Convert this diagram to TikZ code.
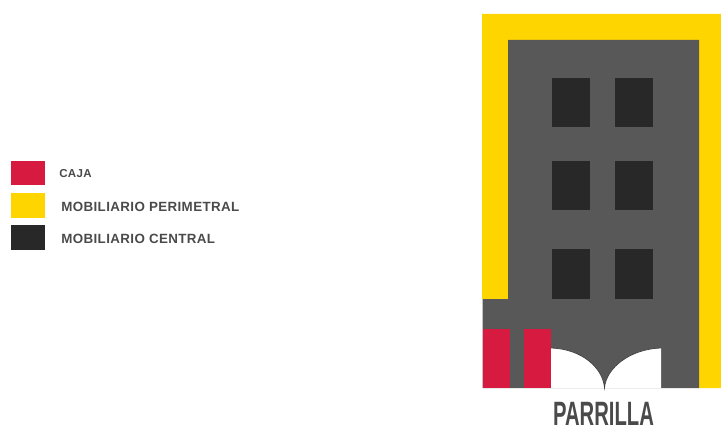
\documentclass[tikz,border=0pt]{standalone}
\usepackage{fontspec}
\usepackage{xcolor}
\usepackage{tikz}
\setmainfont{Liberation Sans}
\newfontfamily\legendfont[LetterSpace=2.9]{Liberation Sans}
\newfontfamily\titlefont[FakeStretch=0.6]{Liberation Sans}
\definecolor{cajared}{HTML}{D71A3F}
\definecolor{perimyellow}{HTML}{FFD500}
\definecolor{centraldark}{HTML}{282828}
\definecolor{floorgray}{HTML}{585858}
\definecolor{labelgray}{HTML}{4A4A4A}

\begin{document}
\begin{tikzpicture}[
    x=0.025cm, y=-0.025cm,
    swatch/.style={inner sep=0pt, minimum width=0.85cm, minimum height=0.6cm},
    central/.style={fill=centraldark, inner sep=0pt, minimum width=0.95cm, minimum height=1.225cm},
    caja/.style={fill=cajared, inner sep=0pt, minimum width=0.675cm, minimum height=1.475cm},
    legendlabel/.style={anchor=west, inner sep=0pt, text=labelgray, font=\legendfont\bfseries\fontsize{9.5}{11}\selectfont}
]
\useasboundingbox (0,0) rectangle (721,427);

% perimeter and floor
\fill[perimyellow] (482,14) -- (721,14) -- (721,388) -- (699,388) -- (699,40) -- (508,40) -- (508,299) -- (482,299) -- cycle;
\fill[floorgray] (508,40) -- (699,40) -- (699,388) -- (482.5,388) -- (482.5,299) -- (508,299) -- cycle;

% central furniture
\node[central] at (571,102.5) (shelfa) {};
\node[central] at (634,102.5) (shelfb) {};
\node[central] at (571,185.5) (shelfc) {};
\node[central] at (634,185.5) (shelfd) {};
\node[central] at (571,274) (shelfe) {};
\node[central] at (634,274) (shelff) {};

% cash desks
\node[caja] at (496.5,358.5) (cajaa) {};
\node[caja] at (537.5,358.5) (cajab) {};

% grill
\fill[white] (551,348) .. controls (582,349) and (603,368) .. (604.5,388) .. controls (606,368) and (630,349) .. (661,348) -- (661,388) -- (551,388) -- cycle;
\draw[black!75, line width=0.5pt] (551,348) .. controls (582,349) and (603,368) .. (604.5,388) .. controls (606,368) and (630,349) .. (661,348);
\node[anchor=north, inner sep=0pt, text=labelgray, font=\titlefont\bfseries\fontsize{24}{26}\selectfont] at (603.5,402) (parrilla) {PARRILLA};

% legend
\node[swatch, fill=cajared] at (28,173) (redkey) {};
\node[swatch, fill=perimyellow] at (28,205.5) (yellowkey) {};
\node[swatch, fill=centraldark] at (28,237.5) (darkkey) {};
\node[legendlabel, font=\legendfont\bfseries\fontsize{8.2}{10}\selectfont] at (59,173.5) (cajalabel) {CAJA};
\node[legendlabel] at (61,206.5) (perimlabel) {MOBILIARIO PERIMETRAL};
\node[legendlabel] at (61,239) (centrallabel) {MOBILIARIO CENTRAL};
\end{tikzpicture}
\end{document}
